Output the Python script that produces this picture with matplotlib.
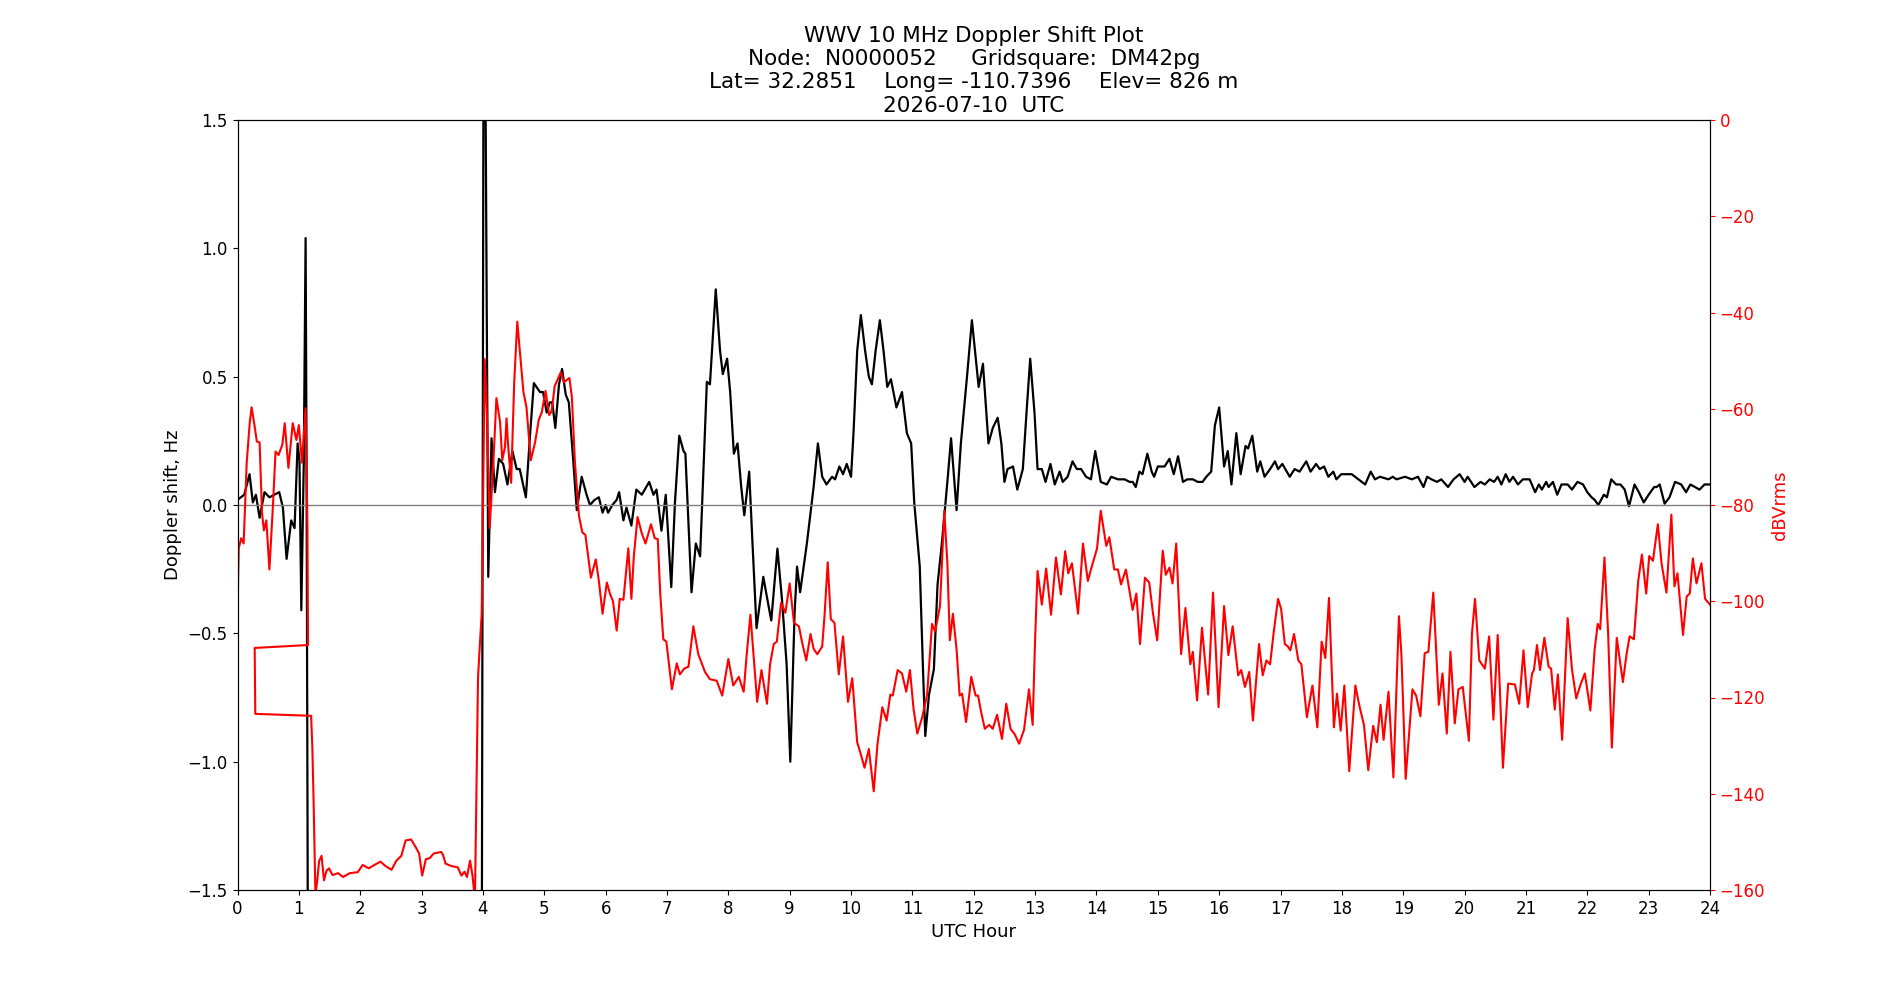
import matplotlib
matplotlib.use("Agg")
import matplotlib.pyplot as plt

plt.rcParams['font.size'] = 12

# doppler shift (Hz) vs UTC hour
doppler_hours = [0.0, 0.11, 0.196, 0.25, 0.30, 0.36, 0.44, 0.52, 0.68, 0.74, 0.80, 0.875, 0.93,
                 0.98, 1.01, 1.04, 1.08, 1.11, 1.125, 1.15, 3.98, 4.01, 4.04, 4.087, 4.14, 4.196,
                 4.26, 4.33, 4.40, 4.48, 4.55, 4.60, 4.70, 4.77, 4.83, 4.93, 4.98, 5.04, 5.09,
                 5.13, 5.18, 5.24, 5.29, 5.35, 5.40, 5.47, 5.53, 5.61, 5.69, 5.745, 5.82, 5.89,
                 5.95, 6.0, 6.04, 6.11, 6.18, 6.22, 6.29, 6.34, 6.42, 6.50, 6.59, 6.71, 6.78,
                 6.83, 6.91, 6.98, 7.07, 7.13, 7.20, 7.27, 7.30, 7.40, 7.47, 7.54, 7.65, 7.70,
                 7.795, 7.865, 7.91, 7.98, 8.03, 8.09, 8.15, 8.21, 8.26, 8.34, 8.39, 8.46, 8.57,
                 8.63, 8.70, 8.80, 8.875, 8.95, 9.01, 9.08, 9.12, 9.17, 9.28, 9.35, 9.39, 9.46,
                 9.53, 9.60, 9.69, 9.74, 9.81, 9.87, 9.93, 10.0, 10.04, 10.10, 10.16, 10.23,
                 10.29, 10.34, 10.40, 10.47, 10.53, 10.59, 10.65, 10.74, 10.83, 10.91, 10.98,
                 11.03, 11.12, 11.17, 11.21, 11.27, 11.35, 11.41, 11.48, 11.57, 11.63, 11.72,
                 11.79, 11.89, 11.97, 12.08, 12.15, 12.24, 12.31, 12.39, 12.45, 12.50, 12.55,
                 12.64, 12.71, 12.80, 12.86, 12.92, 12.99, 13.04, 13.11, 13.17, 13.25, 13.32,
                 13.40, 13.45, 13.53, 13.61, 13.68, 13.75, 13.83, 13.91, 13.98, 14.07, 14.17,
                 14.24, 14.35, 14.46, 14.54, 14.59, 14.64, 14.70, 14.75, 14.83, 14.90, 14.94,
                 15.0, 15.11, 15.19, 15.26, 15.33, 15.41, 15.48, 15.57, 15.65, 15.73, 15.79,
                 15.87, 15.93, 16.0, 16.08, 16.14, 16.20, 16.28, 16.35, 16.43, 16.47, 16.54,
                 16.62, 16.67, 16.74, 16.83, 16.91, 16.96, 17.03, 17.15, 17.23, 17.31, 17.42,
                 17.49, 17.58, 17.64, 17.71, 17.78, 17.86, 17.91, 17.99, 18.16, 18.27, 18.38,
                 18.47, 18.54, 18.62, 18.76, 18.83, 18.89, 19.03, 19.14, 19.24, 19.33, 19.39,
                 19.46, 19.55, 19.62, 19.73, 19.82, 19.92, 20.0, 20.05, 20.16, 20.26, 20.33,
                 20.41, 20.48, 20.54, 20.60, 20.67, 20.73, 20.79, 20.87, 20.95, 21.06, 21.15,
                 21.21, 21.26, 21.33, 21.37, 21.44, 21.51, 21.58, 21.68, 21.75, 21.84, 21.93,
                 22.0, 22.07, 22.12, 22.18, 22.27, 22.32, 22.39, 22.47, 22.54, 22.61, 22.68,
                 22.77, 22.84, 22.92, 23.0, 23.09, 23.13, 23.18, 23.26, 23.34, 23.43, 23.53,
                 23.61, 23.68, 23.83, 23.91, 24.0]
doppler_hz = [0.02, 0.04, 0.12, 0.01, 0.04, -0.05, 0.05, 0.03, 0.05, -0.01, -0.21, -0.06, -0.09,
              0.24, 0.17, -0.41, 0.16, 1.04, 0.2, -2.0, -2.0, 1.8, 1.7, -0.28, 0.26, 0.05,
              0.18, 0.16, 0.08, 0.21, 0.14, 0.14, 0.03, 0.28, 0.475, 0.44, 0.44, 0.36, 0.40,
              0.40, 0.30, 0.47, 0.53, 0.43, 0.40, 0.18, -0.02, 0.11, 0.04, 0.0, 0.02, 0.03,
              -0.03, 0.0, -0.03, 0.0, 0.02, 0.05, -0.06, -0.01, -0.08, 0.06, 0.04, 0.09, 0.04,
              0.06, -0.10, 0.04, -0.32, 0.01, 0.27, 0.21, 0.20, -0.34, -0.15, -0.20, 0.48, 0.47,
              0.84, 0.60, 0.51, 0.57, 0.44, 0.20, 0.24, 0.07, -0.04, 0.13, -0.13, -0.48, -0.28,
              -0.36, -0.45, -0.17, -0.37, -0.62, -1.0, -0.42, -0.24, -0.34, -0.15, -0.01, 0.07, 0.24,
              0.11, 0.08, 0.11, 0.10, 0.15, 0.12, 0.16, 0.11, 0.28, 0.60, 0.74, 0.60,
              0.50, 0.47, 0.60, 0.72, 0.60, 0.46, 0.49, 0.38, 0.44, 0.28, 0.24,
              0.01, -0.24, -0.62, -0.90, -0.74, -0.64, -0.31, -0.15, 0.09, 0.26, -0.02,
              0.24, 0.50, 0.72, 0.46, 0.55, 0.24, 0.30, 0.34, 0.24, 0.09, 0.14,
              0.15, 0.06, 0.14, 0.36, 0.57, 0.36, 0.14, 0.14, 0.09, 0.16, 0.08,
              0.13, 0.09, 0.11, 0.17, 0.14, 0.14, 0.11, 0.10, 0.21, 0.09, 0.08,
              0.11, 0.10, 0.10, 0.09, 0.09, 0.07, 0.13, 0.12, 0.20, 0.13, 0.11,
              0.15, 0.15, 0.18, 0.12, 0.19, 0.09, 0.10, 0.10, 0.09, 0.09, 0.11,
              0.13, 0.31, 0.38, 0.15, 0.21, 0.08, 0.28, 0.12, 0.23, 0.22, 0.27,
              0.13, 0.17, 0.11, 0.14, 0.17, 0.14, 0.16, 0.11, 0.14, 0.13, 0.17,
              0.13, 0.16, 0.14, 0.15, 0.11, 0.13, 0.10, 0.12, 0.12, 0.10, 0.08,
              0.13, 0.10, 0.11, 0.10, 0.11, 0.10, 0.11, 0.10, 0.11, 0.07, 0.11,
              0.10, 0.09, 0.10, 0.07, 0.10, 0.12, 0.09, 0.11, 0.07, 0.09, 0.08,
              0.10, 0.09, 0.11, 0.08, 0.12, 0.09, 0.11, 0.08, 0.10, 0.10, 0.05,
              0.08, 0.06, 0.09, 0.07, 0.09, 0.04, 0.08, 0.08, 0.06, 0.09, 0.08,
              0.05, 0.03, 0.02, 0.0, 0.04, 0.03, 0.10, 0.08, 0.08, 0.06, -0.005,
              0.08, 0.05, 0.01, 0.04, 0.07, 0.07, 0.08, 0.005, 0.03, 0.09, 0.08,
              0.05, 0.08, 0.06, 0.08, 0.08]

# received power (dBVrms) vs UTC hour
power_hours = [0.0, 0.02, 0.06, 0.10, 0.15, 0.20, 0.23, 0.28, 0.315, 0.36, 0.40, 0.43, 0.47,
               0.52, 0.58, 0.62, 0.67, 0.73, 0.77, 0.83, 0.90, 0.96, 1.0, 1.05, 1.11, 1.14,
               1.15, 0.28, 0.29, 1.20, 1.22, 1.24, 1.27, 1.30, 1.33, 1.37, 1.41, 1.45, 1.49,
               1.55, 1.64, 1.72, 1.83, 1.96, 2.04, 2.14, 2.23, 2.33, 2.41, 2.51, 2.59, 2.67,
               2.74, 2.83, 2.90, 2.96, 3.01, 3.07, 3.13, 3.20, 3.32, 3.35, 3.39, 3.48, 3.59,
               3.65, 3.70, 3.74, 3.79, 3.83, 3.87, 3.92, 3.95, 3.98, 4.03, 4.07, 4.11, 4.17,
               4.22, 4.28, 4.315, 4.36, 4.385, 4.41, 4.46, 4.51, 4.56, 4.61, 4.66, 4.71, 4.78,
               4.85, 4.91, 4.96, 5.02, 5.08, 5.12, 5.17, 5.27, 5.32, 5.41, 5.45, 5.50, 5.565,
               5.62, 5.67, 5.72, 5.76, 5.84, 5.89, 5.95, 6.02, 6.07, 6.12, 6.18, 6.23, 6.29,
               6.37, 6.42, 6.46, 6.52, 6.59, 6.65, 6.74, 6.80, 6.85, 6.89, 6.94, 6.99, 7.08,
               7.16, 7.21, 7.28, 7.35, 7.43, 7.51, 7.62, 7.70, 7.81, 7.90, 8.0, 8.08, 8.17,
               8.25, 8.30, 8.36, 8.41, 8.47, 8.54, 8.63, 8.68, 8.74, 8.79, 8.86, 8.93, 9.0,
               9.07, 9.15, 9.20, 9.27, 9.34, 9.39, 9.45, 9.53, 9.57, 9.62, 9.67, 9.73, 9.80,
               9.87, 9.95, 10.02, 10.10, 10.15, 10.22, 10.29, 10.37, 10.43, 10.51, 10.58,
               10.64, 10.68, 10.76, 10.83, 10.90, 10.96, 11.02, 11.08, 11.16, 11.24, 11.32,
               11.37, 11.45, 11.52, 11.57, 11.61, 11.66, 11.72, 11.77, 11.81, 11.875, 11.96,
               12.03, 12.07, 12.12, 12.18, 12.25, 12.31, 12.38, 12.46, 12.53, 12.60, 12.67,
               12.74, 12.82, 12.90, 12.96, 13.0, 13.04, 13.11, 13.18, 13.26, 13.34, 13.42,
               13.49, 13.54, 13.60, 13.70, 13.78, 13.86, 13.91, 14.01, 14.07, 14.16, 14.21,
               14.29, 14.35, 14.40, 14.48, 14.59, 14.65, 14.71, 14.79, 14.86, 14.92, 14.99,
               15.08, 15.13, 15.19, 15.24, 15.30, 15.38, 15.45, 15.53, 15.57, 15.64, 15.72,
               15.82, 15.90, 15.99, 16.08, 16.15, 16.22, 16.31, 16.36, 16.42, 16.49, 16.55,
               16.65, 16.71, 16.77, 16.83, 16.89, 16.96, 17.01, 17.07, 17.12, 17.16, 17.22,
               17.29, 17.34, 17.43, 17.52, 17.60, 17.67, 17.73, 17.79, 17.87, 17.92, 17.98,
               18.04, 18.12, 18.22, 18.29, 18.36, 18.43, 18.51, 18.57, 18.63, 18.68, 18.76,
               18.84, 18.93, 18.97, 19.04, 19.15, 19.21, 19.28, 19.35, 19.41, 19.49, 19.58,
               19.64, 19.71, 19.77, 19.84, 19.90, 19.97, 20.07, 20.12, 20.17, 20.24, 20.33,
               20.40, 20.47, 20.54, 20.625, 20.71, 20.82, 20.89, 20.96, 21.03, 21.10, 21.13,
               21.18, 21.23, 21.30, 21.37, 21.41, 21.47, 21.52, 21.59, 21.68, 21.75, 21.82,
               21.89, 21.96, 22.05, 22.12, 22.17, 22.21, 22.28, 22.34, 22.40, 22.48, 22.58,
               22.64, 22.69, 22.76, 22.83, 22.89, 22.96, 23.01, 23.07, 23.15, 23.21, 23.29,
               23.37, 23.42, 23.47, 23.56, 23.62, 23.67, 23.72, 23.78, 23.86, 23.92, 24.0]
power_db = [-102.6, -89.0, -86.9, -88.0, -71.2, -62.8, -59.7, -63.7, -66.8, -67.0, -81.7, -85.3, -83.2,
            -93.4, -79.6, -68.9, -69.6, -67.5, -63.0, -72.3, -63.0, -66.5, -63.4, -71.2, -59.9, -84.8,
            -109.1, -109.7, -123.4, -123.8, -130.4, -141.4, -161.0, -158.0, -154.0, -152.9, -158.0, -156.0, -155.5,
            -156.9, -156.5, -157.3, -156.5, -156.3, -154.8, -155.5, -154.8, -154.1, -155.0, -155.8, -153.9, -152.9,
            -149.7, -149.5, -151.0, -152.4, -157.0, -153.6, -153.4, -152.4, -152.1, -152.7, -154.5, -155.0, -155.3,
            -157.0, -156.2, -157.3, -153.9, -157.0, -162.0, -116.0, -109.0, -102.6, -49.7, -62.8, -84.8, -71.2,
            -57.8, -62.8, -70.7, -67.9, -62.0, -67.5, -75.4, -54.5, -41.9, -49.2, -56.5, -59.7, -70.7,
            -67.0, -62.3, -60.7, -56.3, -61.3, -60.5, -55.3, -52.4, -54.5, -53.6, -57.6, -71.2, -82.2,
            -85.7, -86.2, -91.1, -95.1, -91.3, -95.8, -102.6, -96.1, -98.4, -100.0, -106.1, -99.5, -99.7,
            -89.0, -99.5, -90.6, -82.5, -85.9, -88.0, -84.0, -86.9, -87.1, -98.4, -107.9, -108.4, -118.3,
            -112.9, -115.2, -114.0, -113.6, -105.2, -111.0, -114.7, -116.2, -116.5, -119.6, -112.0, -117.5, -115.7,
            -118.8, -111.0, -102.8, -111.0, -120.9, -114.3, -121.3, -113.1, -108.9, -108.4, -100.3, -102.4, -96.3,
            -104.5, -105.2, -108.4, -112.3, -106.8, -109.9, -111.0, -109.4, -102.6, -91.9, -103.7, -104.5, -115.2,
            -107.3, -120.9, -116.0, -129.3, -131.4, -134.6, -130.7, -139.5, -129.8, -122.0, -124.8,
            -119.4, -119.6, -114.3, -115.0, -118.8, -114.3, -122.5, -127.5, -124.1, -119.4, -104.7,
            -106.3, -101.0, -81.2, -92.1, -108.1, -102.6, -110.0, -119.6, -119.2, -125.1, -115.7,
            -119.6, -119.6, -123.0, -126.5, -125.7, -126.5, -123.6, -128.6, -121.3, -126.5, -127.7,
            -129.6, -126.7, -118.3, -125.7, -107.9, -93.7, -100.7, -93.2, -102.8, -90.9, -98.6,
            -89.6, -94.2, -92.1, -102.6, -88.0, -95.8, -93.4, -89.0, -81.2, -88.5, -86.7,
            -93.4, -93.4, -96.5, -93.4, -101.8, -98.4, -108.9, -95.1, -96.1, -102.4, -108.1,
            -89.5, -94.5, -93.0, -96.3, -88.0, -111.0, -101.4, -113.1, -110.5, -120.6, -105.5,
            -119.4, -98.2, -122.0, -101.0, -111.2, -105.2, -115.4, -114.3, -117.8, -114.7, -124.8,
            -108.9, -115.4, -112.3, -113.1, -106.3, -99.5, -101.6, -108.9, -109.4, -110.2, -106.8,
            -112.3, -113.1, -124.1, -117.5, -126.2, -108.4, -111.8, -99.3, -126.2, -119.2, -126.9,
            -117.5, -135.3, -117.5, -122.0, -125.7, -135.1, -125.9, -129.3, -121.5, -128.8, -118.8,
            -136.6, -103.1, -111.0, -136.9, -118.3, -119.6, -123.9, -110.8, -110.5, -98.2, -121.5,
            -115.0, -127.5, -110.5, -125.4, -118.3, -117.8, -129.0, -106.8, -99.5, -112.3, -114.0,
            -107.3, -124.6, -107.0, -134.6, -117.1, -117.3, -121.3, -110.2, -122.0, -115.0, -114.3,
            -109.1, -114.3, -107.6, -113.6, -114.0, -122.5, -115.2, -128.8, -103.5, -114.1, -120.2,
            -117.3, -115.0, -122.7, -110.0, -104.7, -105.8, -90.9, -106.8, -130.4, -107.6, -116.8,
            -111.0, -107.3, -107.9, -95.8, -90.3, -98.4, -90.6, -91.6, -84.0, -92.1, -98.2,
            -82.0, -96.9, -94.2, -107.0, -99.0, -98.4, -91.1, -96.3, -92.1, -99.5, -100.7]

title = ("WWV 10 MHz Doppler Shift Plot\n"
         "Node:  N0000052     Gridsquare:  DM42pg\n"
         "Lat= 32.2851    Long= -110.7396    Elev= 826 m\n"
         "2026-07-10  UTC")

fig, ax1 = plt.subplots(figsize=(19, 10))
ax1.plot(doppler_hours, doppler_hz, color='black', linewidth=1.6, solid_joinstyle='round')
ax1.axhline(0, color='grey', linewidth=1)
ax1.set_xlim(0, 24)
ax1.set_ylim(-1.5, 1.5)
ax1.set_xticks(range(0, 25))
ax1.set_yticks([-1.5, -1.0, -0.5, 0.0, 0.5, 1.0, 1.5])
ax1.set_xlabel("UTC Hour", fontsize=13)
ax1.set_ylabel("Doppler shift, Hz", fontsize=13)
ax1.set_title(title, fontsize=15.5)

ax2 = ax1.twinx()
ax2.plot(power_hours, power_db, color='red', linewidth=1.5, solid_joinstyle='round')
ax2.set_ylim(-160, 0)
ax2.set_yticks(range(-160, 1, 20))
ax2.set_ylabel("dBVrms", color='red', fontsize=13)
ax2.tick_params(axis='y', colors='red')
ax2.spines['right'].set_color('black')

plt.savefig("out.png", dpi=100)
